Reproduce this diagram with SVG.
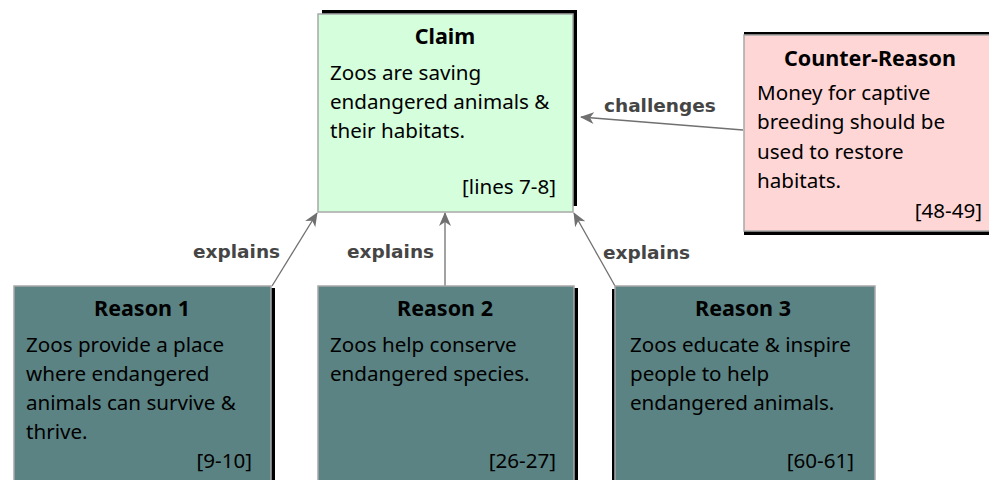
<svg xmlns="http://www.w3.org/2000/svg" width="989" height="480" viewBox="0 0 989 480">
  <style>
    .box { stroke: #a8a8a8; stroke-width: 1.5; }
    .claim { fill: #d4fedc; }
    .counter { fill: #ffd6d6; }
    .reason { fill: #5b8383; }
    .shadow { fill: #000; }
    .title { font-family: "Noto Sans", "Open Sans", sans-serif; font-size: 21.5px; font-weight: bold; fill: #000; text-anchor: middle; }
    .body { font-family: "Noto Sans", "Open Sans", sans-serif; font-size: 20.6px; fill: #000; }
    .ref { font-family: "Noto Sans", "Open Sans", sans-serif; font-size: 20.6px; fill: #000; text-anchor: end; }
    .edge { stroke: #707070; stroke-width: 1.3; fill: none; marker-end: url(#arrow); }
    .elabel { font-family: "DejaVu Sans", sans-serif; font-size: 18.5px; font-weight: bold; fill: #454545; }
  </style>
  <defs>
    <marker id="arrow" viewBox="0 0 14 12" refX="13" refY="6" markerWidth="14" markerHeight="12" markerUnits="userSpaceOnUse" orient="auto">
      <path d="M0,0 L14,6 L0,12 L4,6 Z" fill="#707070"/>
    </marker>
  </defs>

  <rect width="989" height="480" fill="#fff"/>

  <!-- connectors -->
  <g id="connectors">
    <line class="edge" x1="272" y1="286" x2="317" y2="213"/>
    <line class="edge" x1="445" y1="286" x2="445" y2="213"/>
    <line class="edge" x1="615" y1="286" x2="574" y2="213"/>
    <line class="edge" x1="743" y1="130" x2="581" y2="117"/>
    <text class="elabel" x="193" y="258">explains</text>
    <text class="elabel" x="347" y="258">explains</text>
    <text class="elabel" x="603" y="259">explains</text>
    <text class="elabel" x="604" y="112">challenges</text>
  </g>

  <!-- claim -->
  <g id="claim">
    <rect class="shadow" x="322" y="10" width="255" height="196"/>
    <rect class="box claim" x="318" y="14" width="255" height="198"/>
    <text class="title" x="445" y="44">Claim</text>
    <text class="body" x="330" y="80">Zoos are saving</text>
    <text class="body" x="330" y="109">endangered animals &amp;</text>
    <text class="body" x="330" y="138">their habitats.</text>
    <text class="ref" x="556" y="194">[lines 7-8]</text>
  </g>

  <!-- counter-reason -->
  <g id="counter-reason">
    <rect class="shadow" x="744" y="32" width="260" height="203"/>
    <rect class="box counter" x="744" y="35" width="260" height="196"/>
    <text class="title" x="870" y="66">Counter-Reason</text>
    <text class="body" x="757" y="100">Money for captive</text>
    <text class="body" x="757" y="129">breeding should be</text>
    <text class="body" x="757" y="159">used to restore</text>
    <text class="body" x="757" y="188">habitats.</text>
    <text class="ref" x="982" y="218">[48-49]</text>
  </g>

  <!-- reason 1 -->
  <g id="reason1">
    <rect class="shadow" x="19" y="288" width="256" height="200"/>
    <rect class="box reason" x="14" y="286" width="257" height="200"/>
    <text class="title" x="142" y="316">Reason 1</text>
    <text class="body" x="26" y="352">Zoos provide a place</text>
    <text class="body" x="26" y="381">where endangered</text>
    <text class="body" x="26" y="410">animals can survive &amp;</text>
    <text class="body" x="26" y="439">thrive.</text>
    <text class="ref" x="252" y="468">[9-10]</text>
  </g>

  <!-- reason 2 -->
  <g id="reason2">
    <rect class="shadow" x="322" y="288" width="256" height="200"/>
    <rect class="box reason" x="318" y="286" width="256" height="200"/>
    <text class="title" x="445" y="316">Reason 2</text>
    <text class="body" x="330" y="352">Zoos help conserve</text>
    <text class="body" x="330" y="381">endangered species.</text>
    <text class="ref" x="556" y="468">[26-27]</text>
  </g>

  <!-- reason 3 -->
  <g id="reason3">
    <rect class="shadow" x="612" y="289" width="258" height="200"/>
    <rect class="box reason" x="615" y="286" width="260" height="200"/>
    <text class="title" x="743" y="316">Reason 3</text>
    <text class="body" x="630" y="352">Zoos educate &amp; inspire</text>
    <text class="body" x="630" y="381">people to help</text>
    <text class="body" x="630" y="410">endangered animals.</text>
    <text class="ref" x="854" y="468">[60-61]</text>
  </g>
</svg>
